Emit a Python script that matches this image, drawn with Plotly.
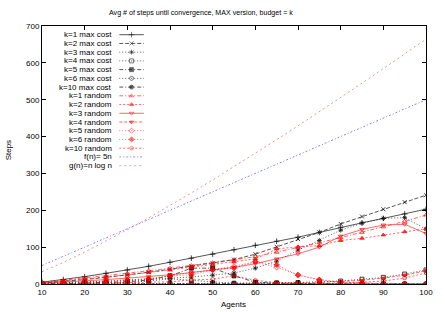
import plotly.graph_objects as go

agents = [10, 15, 20, 25, 30, 35, 40, 45, 50, 55, 60, 65, 70, 75, 80, 85, 90, 95, 100]

k1_max = [5, 12, 20, 29, 38, 48, 59, 70, 81, 93, 105, 116, 127, 140, 154, 166, 178, 190, 203]
k2_max = [3, 7, 12, 18, 24, 32, 40, 48, 56, 66, 81, 101, 122, 140, 163, 183, 203, 222, 241]
k3_max = [2, 3, 5, 7, 9, 12, 15, 19, 24, 30, 43, 62, 92, 118, 146, 165, 178, 180, 149]
k4_max = [0, 0, 0, 0, 1, 1, 1, 2, 2, 2, 3, 3, 4, 6, 8, 13, 18, 27, 38]
k5_max = [0, 1, 2, 4, 6, 11, 22, 43, 43, 22, 5, 2, 1, 0, 0, 0, 0, 0, 0]
k6_max = [0, 1, 1, 2, 4, 8, 14, 10, 5, 2, 1, 0, 0, 0, 0, 0, 0, 0, 0]
k10_max = [0, 0, 0, 0, 0, 0, 0, 0, 0, 0, 0, 0, 0, 0, 0, 0, 0, 0, 0]

k1_rand = [4, 10, 16, 22, 29, 36, 43, 50, 58, 66, 74, 86, 99, 112, 126, 140, 155, 170, 187]
k2_rand = [3, 8, 13, 19, 25, 31, 38, 45, 52, 60, 68, 95, 101, 104, 118, 124, 133, 142, 150]
k3_rand = [2, 5, 8, 12, 16, 20, 25, 31, 38, 45, 55, 68, 82, 100, 130, 148, 160, 162, 137]
k4_rand = [0, 0, 0, 0, 0, 0, 0, 0, 0, 0, 1, 1, 2, 4, 6, 10, 16, 24, 36]
k5_rand = [1, 3, 5, 8, 11, 14, 22, 30, 38, 48, 60, 45, 25, 12, 5, 2, 1, 0, 0]
k6_rand = [0, 2, 4, 7, 11, 14, 22, 25, 38, 43, 61, 52, 24, 11, 4, 3, 2, 1, 0]
k10_rand = [0, 1, 1, 2, 3, 5, 6, 11, 13, 23, 10, 4, 2, 1, 2, 4, 8, 16, 30]

f_5n = [50, 75, 100, 125, 150, 175, 200, 225, 250, 275, 300, 325, 350, 375, 400, 425, 450, 475, 500]
g_nlogn = [33.2, 58.6, 86.4, 116.1, 147.2, 179.5, 212.9, 247.1, 282.2, 318.0, 354.4, 391.5,
           429.1, 467.2, 505.8, 544.8, 584.3, 624.1, 664.4]

x_ticks = [10, 20, 30, 40, 50, 60, 70, 80, 90, 100]
y_ticks = [0, 100, 200, 300, 400, 500, 600, 700]

BLK = "rgba(20,20,20,0.9)"
RED = "rgba(255,0,0,0.75)"
series = [
    ("k=1 max cost", k1_max, BLK, "solid", "cross-thin-open"),
    ("k=2 max cost", k2_max, BLK, "4px,2px", "x-thin-open"),
    ("k=3 max cost", k3_max, BLK, "1px,2px", "asterisk-open"),
    ("k=4 max cost", k4_max, BLK, "1px,2px", "square-open"),
    ("k=5 max cost", k5_max, BLK, "4px,2px,1px,2px", "square"),
    ("k=6 max cost", k6_max, BLK, "1px,2px", "circle-open"),
    ("k=10 max cost", k10_max, BLK, "4px,2px,1px,2px", "circle"),
    ("k=1 random", k1_rand, RED, "4px,2px,1px,2px", "triangle-up-open"),
    ("k=2 random", k2_rand, RED, "2px,2px", "triangle-up"),
    ("k=3 random", k3_rand, RED, "solid", "triangle-down-open"),
    ("k=4 random", k4_rand, RED, "3px,2px", "triangle-down"),
    ("k=5 random", k5_rand, RED, "1px,2px", "diamond-open"),
    ("k=6 random", k6_rand, RED, "1px,2px", "diamond"),
    ("k=10 random", k10_rand, RED, "2px,2px", "pentagon-open"),
]
funcs = [
    ("f(n)= 5n", f_5n, "rgba(90,90,255,0.85)", "2px,2px,1px,2px"),
    ("g(n)=n log n", g_nlogn, "rgba(220,110,110,0.8)", "2px,3px"),
]

FONT = "Liberation Sans, Arial, sans-serif"
NARROW = "Liberation Sans Narrow, Arial Narrow, Liberation Sans, sans-serif"
fig = go.Figure()

for name, ys, col, dash in funcs:
    fig.add_trace(go.Scatter(x=agents, y=ys, mode="lines", showlegend=False,
                             line=dict(color=col, width=0.9, dash=dash)))
for name, ys, col, dash, sym in series:
    fig.add_trace(go.Scatter(x=agents, y=ys, mode="lines+markers", showlegend=False,
                             line=dict(color=col, width=0.8, dash=dash),
                             marker=dict(symbol=sym, size=4, color=col,
                                         line=dict(color=col, width=0.9))))

# gnuplot-style key: text on the left, sample on the right
L, R, T, B = 42, 430, 26, 284
W, H = R - L, B - T
row0, step = 34.7, 8.73
key_items = [(n, c, d, s) for n, _, c, d, s in series] + [(n, c, d, None) for n, _, c, d in funcs]
annotations = []
for i, (name, col, dash, sym) in enumerate(key_items):
    yv = B - (row0 + step * i)
    annotations.append(dict(text=name, x=(115 - L) / W, y=yv / H, xref="paper", yref="paper",
                            xanchor="right", yanchor="middle", showarrow=False,
                            font=dict(size=8, color="black", family=FONT)))
    fig.add_trace(go.Scatter(x=[0, 0.5, 1], y=[yv, yv, yv], xaxis="x2", yaxis="y2",
                             mode="lines+markers" if sym else "lines", showlegend=False,
                             hoverinfo="skip",
                             line=dict(color=col, width=0.8, dash=dash),
                             marker=dict(symbol=sym or "circle", size=[0, 4, 0], color=col,
                                         line=dict(color=col, width=0.9))))

annotations.append(dict(text="Avg # of steps until convergence, MAX version, budget = k",
                        x=(203 - L) / W, y=(B - 13) / H, xref="paper", yref="paper",
                        xanchor="center", yanchor="middle", showarrow=False,
                        font=dict(size=7.1, color="black", family=NARROW)))
annotations.append(dict(text="Steps", x=(8 - L) / W, y=(B - 150) / H, xref="paper", yref="paper",
                        textangle=-90, xanchor="center", yanchor="middle", showarrow=False,
                        font=dict(size=8, color="black", family=FONT)))
annotations.append(dict(text="Agents", x=(235 - L) / W, y=(B - 304) / H, xref="paper", yref="paper",
                        xanchor="center", yanchor="middle", showarrow=False,
                        font=dict(size=8, color="black", family=FONT)))

axis_common = dict(showgrid=False, zeroline=False, showline=True, linecolor="black", linewidth=1,
                   mirror="ticks", ticks="inside", ticklen=4, tickcolor="black",
                   tickfont=dict(size=8, color="black", family=FONT))
fig.update_layout(
    width=445, height=312,
    margin=dict(l=L, r=445 - R, t=T, b=312 - B),
    paper_bgcolor="white", plot_bgcolor="rgba(0,0,0,0)",
    showlegend=False,
    xaxis=dict(range=[10, 100], tickvals=x_ticks, **axis_common),
    yaxis=dict(range=[0, 700], tickvals=y_ticks, **axis_common),
    xaxis2=dict(domain=[(120 - L) / W, (145 - L) / W], range=[0, 1], visible=False, anchor="y2"),
    yaxis2=dict(domain=[0, 1], range=[0, H], visible=False, anchor="x2"),
    annotations=annotations,
)
fig.write_html("out.html", config={"displayModeBar": False},
               post_script="document.body.style.margin='0';")
